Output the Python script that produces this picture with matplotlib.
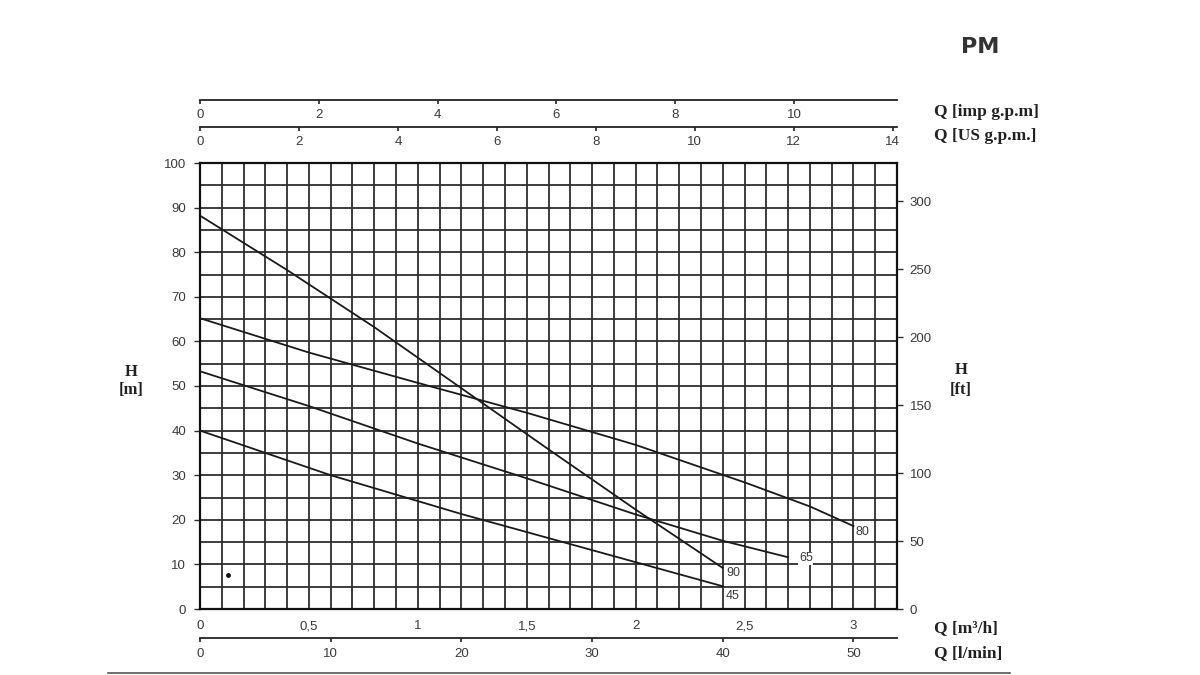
import matplotlib.pyplot as plt
from matplotlib.lines import Line2D
import numpy as np

# pump curves, Q in m3/h, H in m
q_90 = [0, 0.4, 0.8, 1.2, 1.6, 2.0, 2.4]
h_90 = [88.2, 76.0, 63.2, 49.5, 35.8, 22.3, 9.2]
q_80 = [0, 0.5, 1.0, 1.5, 2.0, 2.5, 2.8, 3.0]
h_80 = [65.2, 57.5, 50.7, 44.0, 36.8, 28.4, 23.0, 18.6]
q_65 = [0, 0.5, 1.0, 1.5, 2.0, 2.4, 2.7]
h_65 = [53.3, 45.5, 37.1, 29.3, 21.2, 15.3, 11.6]
q_45 = [0, 0.6, 1.2, 1.8, 2.4]
h_45 = [40.0, 30.0, 21.3, 13.2, 5.1]
curve_names = ["90", "80", "65", "45"]

q_ticks = [0, 0.5, 1, 1.5, 2, 2.5, 3]
q_ticklabels = ["0", "0,5", "1", "1,5", "2", "2,5", "3"]
h_ticks = list(range(0, 101, 10))
ft_ticks = [0, 50, 100, 150, 200, 250, 300]
lmin_ticks = [0, 10, 20, 30, 40, 50]
us_ticks = [0, 2, 4, 6, 8, 10, 12, 14]
imp_ticks = [0, 2, 4, 6, 8, 10]

Q_MAX = 3.2
M_TO_FT = 3.28084
M3H_TO_LMIN = 1000 / 60
M3H_TO_USGPM = 4.40287
M3H_TO_IMPGPM = 3.66615

TICK_COLOR = "#3a3a3a"
GRID_COLOR = "#2e2e2e"
SERIF = "Liberation Serif"
SANS = "Liberation Sans"
TICK_SIZE = 9.5

fig = plt.figure(figsize=(12, 6.75), dpi=100)
L, R = 200 / 1200, 897 / 1200
W = R - L


def fy(py):
    return 1 - py / 675


ax = fig.add_axes([L, fy(609), W, fy(163) - fy(609)])
ax.set_xlim(0, Q_MAX)
ax.set_ylim(0, 100)
ax.set_xticks(np.arange(0, Q_MAX + 0.001, 0.1), minor=True)
ax.set_yticks(np.arange(0, 101, 5), minor=True)
ax.set_xticks(q_ticks)
ax.set_xticklabels(q_ticklabels)
ax.set_yticks(h_ticks)
ax.grid(True, which="both", color=GRID_COLOR, lw=1.3)
ax.set_axisbelow(True)
ax.tick_params(axis="x", which="both", length=0, pad=8, labelsize=TICK_SIZE,
               labelcolor=TICK_COLOR)
ax.tick_params(axis="y", which="major", length=4, width=1, pad=6,
               labelsize=TICK_SIZE, labelcolor=TICK_COLOR, color=GRID_COLOR)
ax.tick_params(axis="y", which="minor", length=0)
for s in ax.spines.values():
    s.set_linewidth(1.6)
    s.set_color("#111111")
for lab in ax.get_xticklabels() + ax.get_yticklabels():
    lab.set_family(SANS)

curves = [(q_90, h_90), (q_80, h_80), (q_65, h_65), (q_45, h_45)]
for (q, h) in curves:
    ax.plot(q, h, color="#1a1a1a", lw=1.3, zorder=3)

label_pos = {"90": (2.415, 8.0), "80": (3.01, 17.3), "65": (2.75, 11.4), "45": (2.415, 3.0)}
for name in curve_names:
    x, y = label_pos[name]
    ax.text(x, y, name, fontsize=9, family=SANS, color=TICK_COLOR, va="center",
            ha="left", zorder=4,
            bbox=dict(boxstyle="square,pad=0.05", fc="white", ec="none"))

# small dot in the lower-left cell
ax.plot([0.128], [7.6], marker="o", ms=2.5, color="#111111", zorder=4)

# right axis in feet
axr = ax.twinx()
axr.set_ylim(0, 100 * M_TO_FT)
axr.set_yticks(ft_ticks)
axr.tick_params(axis="y", length=4, width=1, pad=5, labelsize=TICK_SIZE,
                labelcolor=TICK_COLOR, color=GRID_COLOR)
for lab in axr.get_yticklabels():
    lab.set_family(SANS)
for s in axr.spines.values():
    s.set_visible(False)


def scale_axis(py, xmax, ticks, pad):
    a = fig.add_axes([L, fy(py), W, 1e-5])
    a.set_xlim(0, xmax)
    a.set_xticks(ticks)
    a.set_yticks([])
    a.patch.set_visible(False)
    for k in ["top", "left", "right"]:
        a.spines[k].set_visible(False)
    a.spines["bottom"].set_linewidth(1.3)
    a.spines["bottom"].set_color("#222222")
    a.tick_params(axis="x", length=3, width=1.2, pad=pad, labelsize=TICK_SIZE,
                  labelcolor=TICK_COLOR, color="#222222")
    for lab in a.get_xticklabels():
        lab.set_family(SANS)
    return a


scale_axis(100, Q_MAX * M3H_TO_IMPGPM, imp_ticks, 3.5)
scale_axis(127, Q_MAX * M3H_TO_USGPM, us_ticks, 3.5)
scale_axis(638, Q_MAX * M3H_TO_LMIN, lmin_ticks, 4.5)

# unit labels
lab_kw = dict(family=SERIF, weight="bold", fontsize=12.5, color="#222222",
              va="center", ha="left")
fig.text(934 / 1200, fy(112), "Q [imp g.p.m]", **lab_kw)
fig.text(934 / 1200, fy(136), "Q [US g.p.m.]", **lab_kw)
fig.text(934 / 1200, fy(628), "Q [m³/h]", **lab_kw)
fig.text(934 / 1200, fy(653), "Q [l/min]", **lab_kw)
fig.text(131 / 1200, fy(381), "H\n[m]", family=SERIF, weight="bold",
         fontsize=12, color="#222222", ha="center", va="center",
         linespacing=1.25)
fig.text(961 / 1200, fy(380), "H\n[ft]", family=SERIF, weight="bold",
         fontsize=12, color="#222222", ha="center", va="center",
         linespacing=1.25)
fig.text(980 / 1200, fy(47), "PM", family="DejaVu Sans", weight="heavy",
         fontsize=16, color="#333333", ha="center", va="center")

# rule at the bottom of the page
fig.add_artist(Line2D([108 / 1200, 1010 / 1200], [fy(673), fy(673)],
                      color="#555555", lw=1.2))

fig.savefig("out.png", dpi=100, facecolor="white")
